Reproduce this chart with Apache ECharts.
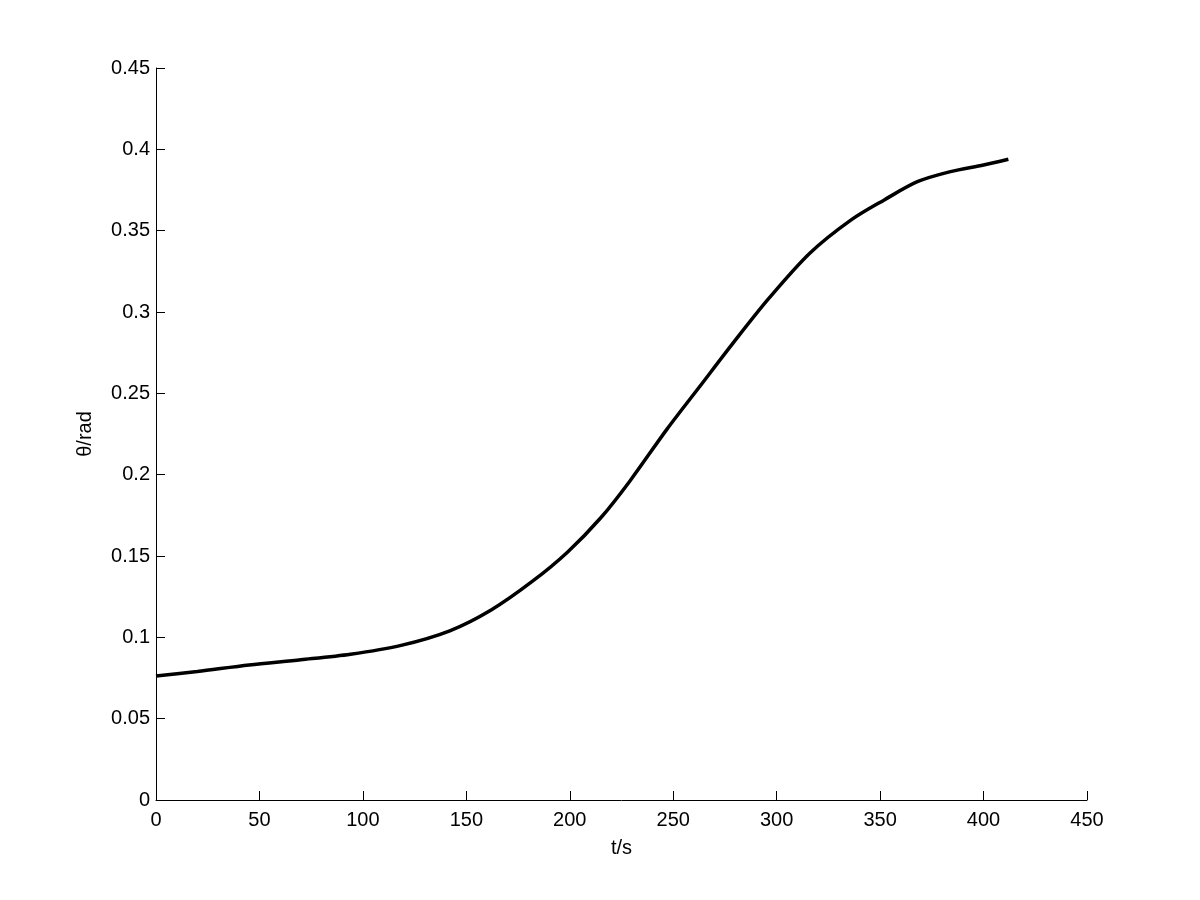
<!DOCTYPE html>
<html>
<head>
<meta charset="utf-8">
<script src="https://cdn.jsdelivr.net/npm/echarts@6/dist/echarts.min.js"></script>
<style>
html,body{margin:0;padding:0;background:#fff;}
#chart{width:1200px;height:900px;}
</style>
</head>
<body>
<div id="chart"></div>
<script>
// Data
const tValues = [0, 20, 45, 70, 94, 118, 142, 162, 182, 199, 215, 229, 247, 263, 279, 296, 316, 336, 352, 368, 384, 400, 412];
const thetaValues = [0.0762, 0.0790, 0.0830, 0.0862, 0.0896, 0.0949, 0.1040, 0.1168, 0.1345, 0.1525, 0.1735, 0.1960, 0.2280, 0.2545, 0.2810, 0.3080, 0.3361, 0.3566, 0.3689, 0.3801, 0.3863, 0.3904, 0.3939];
const xTicks = [0, 50, 100, 150, 200, 250, 300, 350, 400, 450];
const yTicks = [0, 0.05, 0.1, 0.15, 0.2, 0.25, 0.3, 0.35, 0.4, 0.45];
const xName = 't/s';
const yName = 'θ/rad';

const FONT = 'Liberation Sans, Arial, sans-serif';
const points = tValues.map((t, i) => [t, thetaValues[i]]);

const chart = echarts.init(document.getElementById('chart'), null, {renderer: 'canvas'});
chart.setOption({
  backgroundColor: '#ffffff',
  animation: false,
  grid: {left: 156, top: 68, right: 113, bottom: 100, containLabel: false},
  xAxis: {
    type: 'value',
    min: xTicks[0], max: xTicks[xTicks.length - 1], interval: 50,
    name: xName, nameLocation: 'middle', nameGap: 38,
    nameTextStyle: {color: '#000', fontSize: 20, fontFamily: FONT},
    axisLine: {show: true, onZero: false, lineStyle: {color: '#000', width: 1}},
    axisTick: {show: true, inside: true, length: 9, lineStyle: {color: '#000', width: 1}},
    axisLabel: {color: '#000', fontSize: 20, fontFamily: FONT, margin: 10,
      formatter: v => String(v)},
    splitLine: {show: false}
  },
  yAxis: {
    type: 'value',
    min: yTicks[0], max: yTicks[yTicks.length - 1], interval: 0.05,
    name: yName, nameLocation: 'middle', nameGap: 61, nameRotate: 90,
    nameTextStyle: {color: '#000', fontSize: 20, fontFamily: FONT},
    axisLine: {show: true, onZero: false, lineStyle: {color: '#000', width: 1}},
    axisTick: {show: true, inside: true, length: 9, lineStyle: {color: '#000', width: 1}},
    axisLabel: {color: '#000', fontSize: 20, fontFamily: FONT, margin: 6,
      formatter: v => String(parseFloat(v.toFixed(2)))},
    splitLine: {show: false}
  },
  series: [{
    type: 'line',
    data: points,
    smooth: 0.3,
    showSymbol: false,
    lineStyle: {color: '#000', width: 3.5}
  }]
});
</script>
</body>
</html>
